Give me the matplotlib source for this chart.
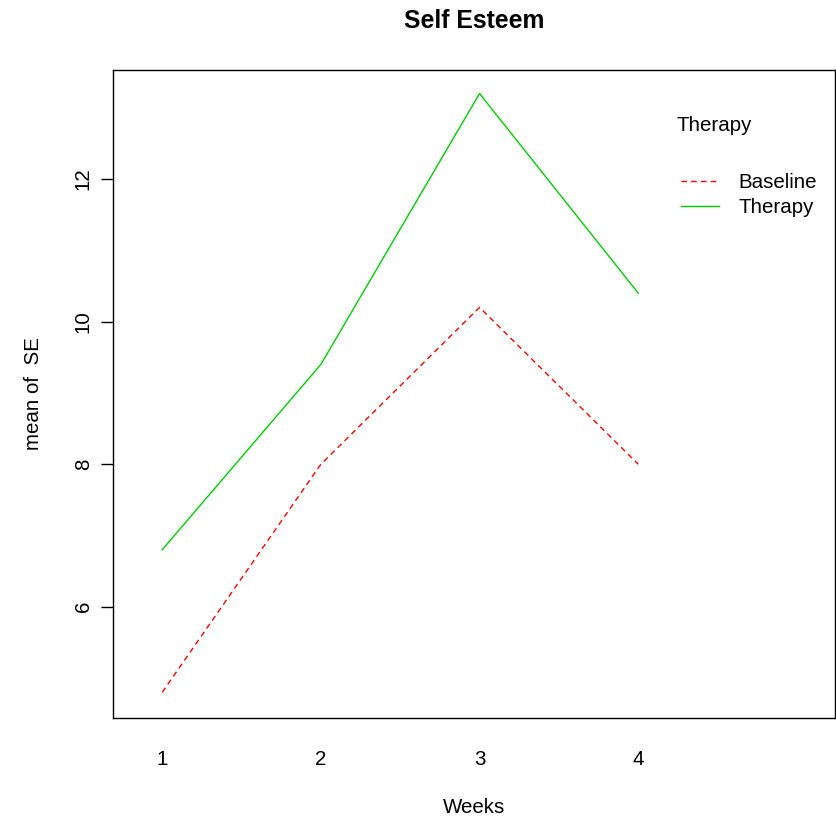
import matplotlib
matplotlib.use("Agg")
import matplotlib.pyplot as plt
from matplotlib.lines import Line2D

plt.rcParams["font.family"] = ["Liberation Sans", "DejaVu Sans"]

weeks = [1, 2, 3, 4]
baseline = [4.8, 8.0, 10.2, 8.0]
therapy = [6.8, 9.4, 13.2, 10.4]
y_ticks = [6, 8, 10, 12]

red = "#FF0000"
green = "#00CD00"

fig = plt.figure(figsize=(8.37, 8.19), dpi=100)
ax = fig.add_axes([0.135, 0.1233, 0.8626, 0.7912])

ax.plot(weeks, baseline, color=red, lw=1.0, ls=(0, (4, 3)))
ax.plot(weeks, therapy, color=green, lw=1.0)

ax.set_xlim(0.69, 5.24)
ax.set_ylim(4.44, 13.53)

ax.set_xticks(weeks)
ax.set_xticklabels([str(w) for w in weeks])
ax.tick_params(axis="x", length=0, pad=23, labelsize=14.8)
ax.set_yticks(y_ticks)
ax.set_yticklabels([str(v) for v in y_ticks], rotation=90, va="center")
ax.tick_params(axis="y", length=8.6, width=1.0, pad=6, labelsize=14.8)
for s in ax.spines.values():
    s.set_linewidth(1.0)

ax.set_xlabel("Weeks", fontsize=14.8, labelpad=21)
ax.set_ylabel("mean of  SE", fontsize=14.8, labelpad=22)
ax.set_title("Self Esteem", fontsize=17.8, fontweight="bold", pad=30)

# legend
ax.text(0.781, 0.915, "Therapy", transform=ax.transAxes, fontsize=14.8,
        ha="left", va="center")
handles = [Line2D([], [], color=red, lw=1.0, ls=(0, (4, 3))),
           Line2D([], [], color=green, lw=1.0)]
ax.legend(handles, ["Baseline", "Therapy"], loc="upper left",
          bbox_to_anchor=(0.775, 0.854), frameon=False, fontsize=14.8,
          handlelength=1.85, handletextpad=0.95, labelspacing=0.3,
          borderaxespad=0)

fig.savefig("out.png", dpi=100)
